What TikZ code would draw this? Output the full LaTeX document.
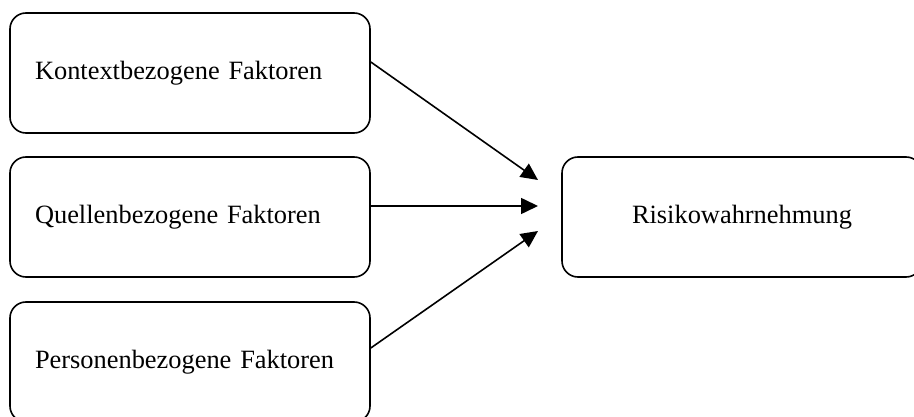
\documentclass[tikz,border=0pt]{standalone}
\usepackage{fontspec}
\setmainfont{Liberation Serif}
\usetikzlibrary{arrows.meta}
\tikzset{
  lbl/.style={font=\fontsize{26.4}{30}\selectfont},
  box/.style={draw, line width=1.6pt, rounded corners=16pt, minimum width=360pt, minimum height=120pt, inner xsep=25pt, text width=310pt, align=left, lbl},
  rbox/.style={draw, line width=1.6pt, rounded corners=16pt, minimum width=360pt, minimum height=120pt, align=center, lbl},
  arr/.style={line width=1.6pt, -{Triangle[length=17pt,width=16pt]}}
}
\begin{document}
\begin{tikzpicture}[x=1pt,y=-1pt]
\clip (0,0) rectangle (914,417);
\node[box] (k) at (190,73) {Kontextbezogene Faktoren};
\node[box] (q) at (190,217) {Quellenbezogene Faktoren};
\node[box] (p) at (190,362) {Personenbezogene Faktoren};
\node[rbox] (r) at (742,217) {Risikowahrnehmung};
\coordinate (e1) at (538,180);
\coordinate (e2) at (538,206);
\coordinate (e3) at (538,231);
\draw[arr] ([yshift=11pt]k.east) -- (e1);
\draw[arr] ([yshift=11pt]q.east) -- (e2);
\draw[arr] ([yshift=14pt]p.east) -- (e3);
\end{tikzpicture}
\end{document}
